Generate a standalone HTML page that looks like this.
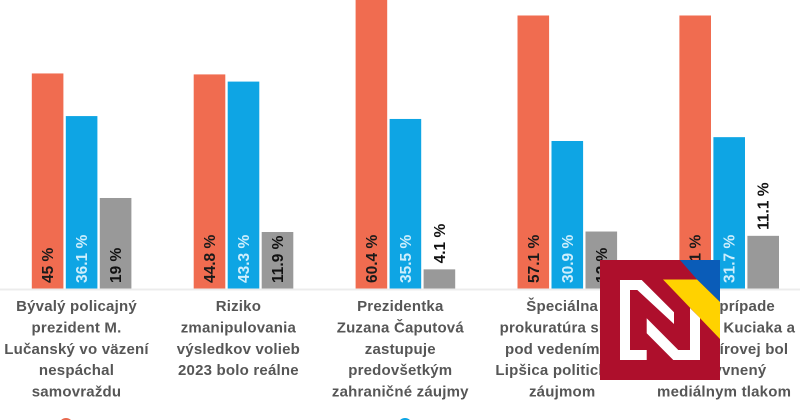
<!DOCTYPE html>
<html lang="sk">
<head>
<meta charset="utf-8">
<title>Prieskum</title>
<style>
html,body{margin:0;padding:0;background:#fff;}
#stage{display:block;width:800px;height:420px;overflow:hidden;filter:blur(0.35px);}
.cat{font-family:"Liberation Sans","DejaVu Sans",sans-serif;font-weight:700;font-size:15px;letter-spacing:0.2px;fill:#565656;text-anchor:middle;}
.val{font-family:"Liberation Sans","DejaVu Sans",sans-serif;font-weight:700;font-size:15.5px;}
</style>
</head>
<body>
<svg id="stage" xmlns="http://www.w3.org/2000/svg" width="800" height="420" viewBox="0 0 800 420">
  <rect x="0" y="0" width="800" height="420" fill="#ffffff"/>
  <g id="bars"></g>
  <rect x="0" y="288.5" width="800" height="2" fill="#ececec"/>
  <g id="cats"></g>
  <circle cx="66" cy="425" r="7" fill="#e8694f"/>
  <circle cx="405" cy="425" r="7" fill="#0ea5e4"/>
  <g>
    <rect x="600" y="260" width="120" height="120" fill="#ae0f2c"/>
    <polygon points="680,260 720,260 720,302 697,279.5" fill="#0a5cb8"/>
    <polygon points="663,279.5 697,279.5 720,302 720,339" fill="#ffd200"/>
    <polygon points="620,280 641.7,280 674,312.3 674,324 637.3,290 630,290 630,350 646.7,350 646.7,360 620,360" fill="#ffffff"/>
    <polygon points="646.7,318.3 678.3,350 690,350 690,308 700,318 700,360 673.3,360 646.7,333.3" fill="#ffffff"/>
  </g>
</svg>
<script>
const categories = [
  ["Bývalý policajný","prezident M.","Lučanský vo väzení","nespáchal","samovraždu"],
  ["Riziko","zmanipulovania","výsledkov volieb","2023 bolo reálne"],
  ["Prezidentka","Zuzana Čaputová","zastupuje","predovšetkým","zahraničné záujmy"],
  ["Špeciálna","prokuratúra slúži","pod vedením D.","Lipšica politickým","záujmom"],
  ["Súd v prípade","vraždy J. Kuciaka a","M. Kušnírovej bol","ovplyvnený","mediálnym tlakom"]
];
const seriesOrange = [45, 44.8, 60.4, 57.1, 57.1];
const seriesBlue = [36.1, 43.3, 35.5, 30.9, 31.7];
const seriesGray = [19, 11.9, 4.1, 12, 11.1];
const valueLabelsOrange = ["45 %","44.8 %","60.4 %","57.1 %","57.1 %"];
const valueLabelsBlue = ["36.1 %","43.3 %","35.5 %","30.9 %","31.7 %"];
const valueLabelsGray = ["19 %","11.9 %","4.1 %","12 %","11.1 %"];

const NS = "http://www.w3.org/2000/svg";
const baseY = 289;
const pxPerUnit = 4.79;
const y = v => baseY - v * pxPerUnit;
const groupX = i => 31.8 + 161.9 * i;
const barW = 31.6;
const barStep = 34;
const barsLayer = document.getElementById("bars");
const catsLayer = document.getElementById("cats");

function drawSeries(values, labels, idx, fill, labelFill, seriesName) {
  values.forEach((v, i) => {
    const x = groupX(i) + idx * barStep;
    const r = document.createElementNS(NS, "rect");
    
    
    r.setAttribute("x", x);
    r.setAttribute("y", y(v));
    r.setAttribute("width", barW);
    r.setAttribute("height", baseY - y(v));
    r.setAttribute("fill", fill);
    barsLayer.appendChild(r);

    const h = baseY - y(v);
    const outside = (h < 55 && labels[i].length > 4) || h < 30;
    const ty = outside ? y(v) - 6 : 283;
    const tx = x + barW / 2 + 5.5;
    const t = document.createElementNS(NS, "text");
    
    
    t.setAttribute("class", "val");
    t.setAttribute("x", tx);
    t.setAttribute("y", ty);
    t.setAttribute("fill", outside ? "#111111" : labelFill);
    t.setAttribute("transform", "rotate(-90 " + tx + " " + ty + ")");
    t.textContent = labels[i];
    barsLayer.appendChild(t);
  });
}
drawSeries(seriesOrange, valueLabelsOrange, 0, "#f06c50", "#1a1a1a", "orange");
drawSeries(seriesBlue, valueLabelsBlue, 1, "#0ea5e4", "#cdeefc", "blue");
drawSeries(seriesGray, valueLabelsGray, 2, "#999999", "#111111", "gray");

categories.forEach((lines, i) => {
  const cx = groupX(i) + 44.7;
  lines.forEach((line, j) => {
    const t = document.createElementNS(NS, "text");
    
    
    t.setAttribute("class", "cat");
    t.setAttribute("x", cx);
    t.setAttribute("y", 311 + j * 21.4);
    t.textContent = line;
    catsLayer.appendChild(t);
  });
});
</script>
</body>
</html>
